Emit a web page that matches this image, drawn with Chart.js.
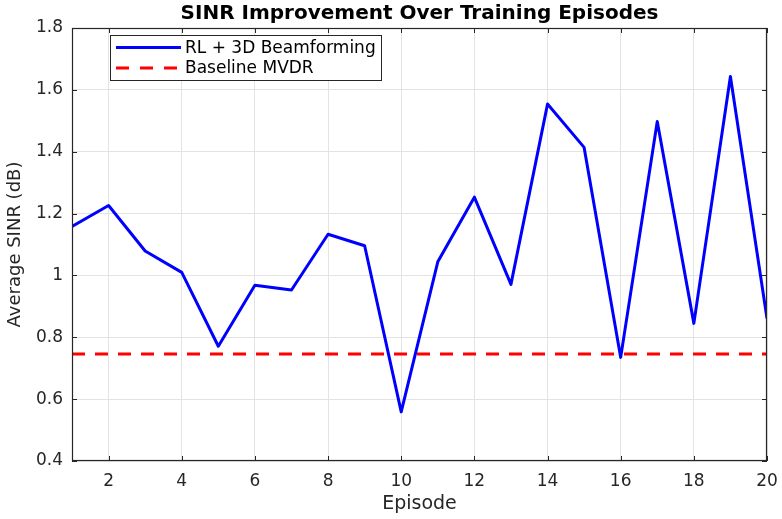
<!DOCTYPE html>
<html><head><meta charset="utf-8">
<script src="https://cdn.jsdelivr.net/npm/chart.js@4/dist/chart.umd.min.js"></script>
<style>html,body{margin:0;padding:0;background:#fff;}#wrap{width:782px;height:519px;}</style>
</head><body><div id="wrap"><canvas id="c" width="782" height="519"></canvas></div>
<script>
const episodes = [1,2,3,4,5,6,7,8,9,10,11,12,13,14,15,16,17,18,19,20];
const rlSinr = [1.158,1.226,1.079,1.010,0.771,0.968,0.953,1.133,1.096,0.559,1.044,1.253,0.971,1.554,1.414,0.735,1.498,0.845,1.643,0.861];
const baselineEpisodes = [1,20];
const baselineSinr = [0.746,0.746];
const xTickValues = [2,4,6,8,10,12,14,16,18,20];
const yTickValues = [0.4,0.6,0.8,1.0,1.2,1.4,1.6,1.8];
const yTickLabels = ['0.4','0.6','0.8','1','1.2','1.4','1.6','1.8'];
const seriesLabels = ['RL + 3D Beamforming','Baseline MVDR'];
const chartTitle = 'SINR Improvement Over Training Episodes';
const xTitle = 'Episode';
const yTitle = 'Average SINR (dB)';

const FONT = "'DejaVu Sans', sans-serif";
const AXC = '#262626';

const boxPlugin = {
  id: 'matlabBox',
  afterDatasetsDraw(chart) {
    const ctx = chart.ctx, a = chart.chartArea;
    const xs = chart.scales.x, ys = chart.scales.y;
    ctx.save();
    // title centred over the axes, MATLAB style
    ctx.fillStyle = '#000';
    ctx.font = 'bold 20px ' + FONT;
    ctx.textAlign = 'center';
    ctx.textBaseline = 'middle';
    ctx.fillText(chartTitle, (a.left + a.right) / 2, 14);

    ctx.strokeStyle = AXC;
    ctx.lineWidth = 1.2;
    ctx.strokeRect(Math.round(a.left)+0.5, Math.round(a.top)+0.5, Math.round(a.right-a.left)-1, Math.round(a.bottom-a.top)-1);
    ctx.lineWidth = 1;
    const tl = 5;
    ctx.beginPath();
    xTickValues.forEach(v => {
      const px = Math.round(xs.getPixelForValue(v)) + 0.5;
      ctx.moveTo(px, a.bottom); ctx.lineTo(px, a.bottom - tl);
      ctx.moveTo(px, a.top); ctx.lineTo(px, a.top + tl);
    });
    yTickValues.forEach(v => {
      const py = Math.round(ys.getPixelForValue(v)) + 0.5;
      ctx.moveTo(a.left, py); ctx.lineTo(a.left + tl, py);
      ctx.moveTo(a.right, py); ctx.lineTo(a.right - tl, py);
    });
    ctx.stroke();
    // legend
    const lx = 110.5, ly = 35.5, lw = 271, lh = 45;
    ctx.fillStyle = '#fff';
    ctx.fillRect(lx, ly, lw, lh);
    ctx.strokeStyle = AXC;
    ctx.strokeRect(lx, ly, lw, lh);
    const rows = [47.5, 68];
    chart.data.datasets.forEach((ds, i) => {
      ctx.save();
      ctx.strokeStyle = ds.borderColor;
      ctx.lineWidth = ds.borderWidth;
      ctx.lineCap = 'butt';
      ctx.setLineDash(ds.borderDash ? [13, 11] : []);
      ctx.beginPath();
      ctx.moveTo(116, rows[i]); ctx.lineTo(181, rows[i]);
      ctx.stroke();
      ctx.restore();
      ctx.fillStyle = '#000';
      ctx.font = '17px ' + FONT;
      ctx.textBaseline = 'middle';
      ctx.textAlign = 'left';
      ctx.fillText(ds.label, 185, rows[i] + 1);
    });
    ctx.restore();
  }
};

new Chart(document.getElementById('c'), {
  type: 'line',
  data: {
    datasets: [
      {
        label: seriesLabels[0],
        data: episodes.map((e, i) => ({x: e, y: rlSinr[i]})),
        borderColor: '#0000ff',
        borderWidth: 3,
        pointRadius: 0,
        tension: 0,
        borderJoinStyle: 'round',
        fill: false
      },
      {
        label: seriesLabels[1],
        data: baselineEpisodes.map((e, i) => ({x: e, y: baselineSinr[i]})),
        borderColor: '#ff0000',
        borderWidth: 3,
        borderDash: [13, 10],
        borderCapStyle: 'butt',
        pointRadius: 0,
        fill: false
      }
    ]
  },
  options: {
    responsive: false,
    animation: false,
    devicePixelRatio: 1,
    layout: { padding: { left: 0, right: 15, top: 28, bottom: 0 } },
    plugins: {
      legend: { display: false },
      tooltip: { enabled: false },
      title: { display: false }
    },
    scales: {
      x: {
        type: 'linear',
        min: 1, max: 20,
        afterBuildTicks: s => { s.ticks = xTickValues.map(v => ({value: v})); },
        afterFit: s => { s.height = 58; s.paddingLeft = 0; s.paddingRight = 0; },
        grid: { color: '#e3e3e3', lineWidth: 1, drawTicks: false },
        border: { display: false },
        ticks: { color: AXC, font: { family: FONT, size: 17 }, padding: 10, maxRotation: 0, autoSkip: false,
          callback: v => String(v) },
        title: { display: true, text: xTitle, color: AXC, font: { family: FONT, size: 19, lineHeight: 1.2 }, padding: { top: 0, bottom: 4 } }
      },
      y: {
        type: 'linear',
        min: 0.4, max: 1.8,
        afterBuildTicks: s => { s.ticks = yTickValues.map(v => ({value: v})); },
        afterFit: s => { s.width = 72; s.paddingTop = 0; s.paddingBottom = 0; },
        grid: { color: '#e3e3e3', lineWidth: 1, drawTicks: false },
        border: { display: false },
        ticks: { color: AXC, font: { family: FONT, size: 17 }, padding: 9, autoSkip: false,
          callback: (v, i) => yTickLabels[i] },
        title: { display: true, text: yTitle, color: AXC, font: { family: FONT, size: 18, lineHeight: 1.2 }, padding: { top: 5, bottom: 0 } }
      }
    }
  },
  plugins: [boxPlugin]
});
</script></body></html>
